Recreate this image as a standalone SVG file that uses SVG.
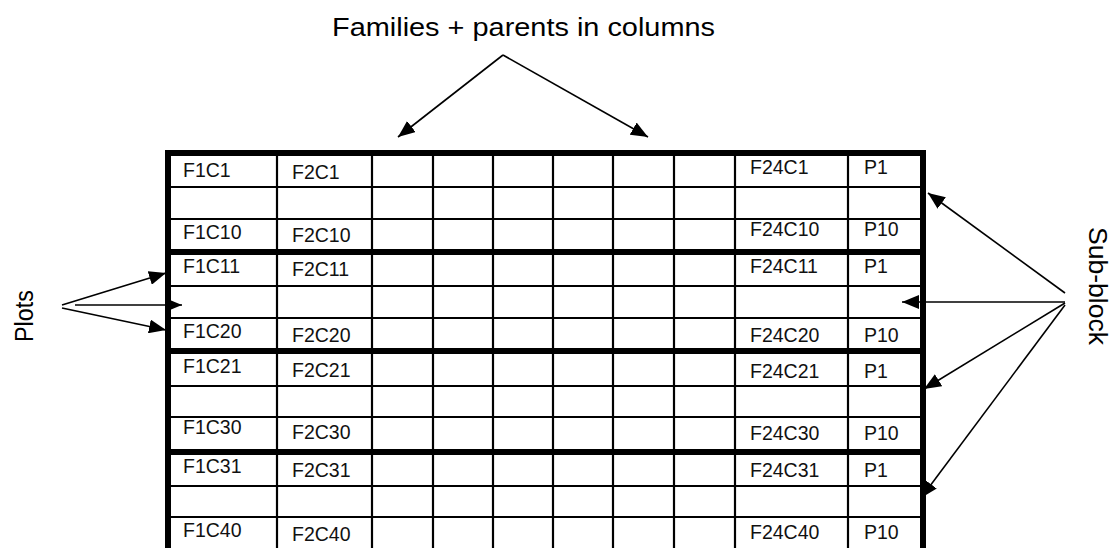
<svg xmlns="http://www.w3.org/2000/svg" width="1111" height="548" viewBox="0 0 1111 548">
<style>
.thin{stroke:#000;stroke-width:2.2;fill:none}
.thick{stroke:#000;stroke-width:6;fill:none}
.cell{font-family:"Liberation Sans",Arial,sans-serif;font-size:19.5px;fill:#111}
.lbl{font-family:"Liberation Sans",Arial,sans-serif;font-size:26px;fill:#000}
.conn{stroke:#000;stroke-width:1.6;fill:none;marker-end:url(#ah)}
</style>
<defs>
<marker id="ah" markerUnits="userSpaceOnUse" markerWidth="18" markerHeight="14" refX="17" refY="7" orient="auto">
<path d="M0,0 L17,7 L0,14 z" fill="#000"/>
</marker>
</defs>
<rect width="1111" height="548" fill="#fff"/>
<g id="grid">
<g class="thin">
<line x1="277" y1="153" x2="277" y2="560"/>
<line x1="372" y1="153" x2="372" y2="560"/>
<line x1="433" y1="153" x2="433" y2="560"/>
<line x1="493" y1="153" x2="493" y2="560"/>
<line x1="553" y1="153" x2="553" y2="560"/>
<line x1="613" y1="153" x2="613" y2="560"/>
<line x1="674" y1="153" x2="674" y2="560"/>
<line x1="735" y1="153" x2="735" y2="560"/>
<line x1="848" y1="153" x2="848" y2="560"/>
<line x1="168" y1="187" x2="923" y2="187"/>
<line x1="168" y1="219" x2="923" y2="219"/>
<line x1="168" y1="286" x2="923" y2="286"/>
<line x1="168" y1="318" x2="923" y2="318"/>
<line x1="168" y1="386" x2="923" y2="386"/>
<line x1="168" y1="417" x2="923" y2="417"/>
<line x1="168" y1="486" x2="923" y2="486"/>
<line x1="168" y1="517" x2="923" y2="517"/>
</g>
<g class="thick">
<line x1="168" y1="252" x2="923" y2="252"/>
<line x1="168" y1="351" x2="923" y2="351"/>
<line x1="168" y1="452" x2="923" y2="452"/>
<rect x="168" y="153" width="755" height="410"/>
</g>
</g>
<g id="cells" class="cell">
<text x="183" y="177">F1C1</text><text x="292" y="179">F2C1</text><text x="750" y="174">F24C1</text><text x="864" y="174">P1</text>
<text x="183" y="239">F1C10</text><text x="292" y="242">F2C10</text><text x="750" y="236">F24C10</text><text x="864" y="236">P10</text>
<text x="183" y="273">F1C11</text><text x="292" y="276">F2C11</text><text x="750" y="273">F24C11</text><text x="864" y="273">P1</text>
<text x="183" y="338">F1C20</text><text x="292" y="342">F2C20</text><text x="750" y="342">F24C20</text><text x="864" y="342">P10</text>
<text x="183" y="373">F1C21</text><text x="292" y="377">F2C21</text><text x="750" y="378">F24C21</text><text x="864" y="378">P1</text>
<text x="183" y="434">F1C30</text><text x="292" y="439">F2C30</text><text x="750" y="440">F24C30</text><text x="864" y="440">P10</text>
<text x="183" y="473">F1C31</text><text x="292" y="477">F2C31</text><text x="750" y="477">F24C31</text><text x="864" y="477">P1</text>
<text x="183" y="537">F1C40</text><text x="292" y="541">F2C40</text><text x="750" y="539">F24C40</text><text x="864" y="539">P10</text>
</g>
<g id="title"><text class="lbl" x="332" y="36" textLength="383" lengthAdjust="spacingAndGlyphs">Families + parents in columns</text></g>
<g id="plots"><text class="lbl" transform="translate(33,342) rotate(-90)" textLength="52" lengthAdjust="spacingAndGlyphs">Plots</text></g>
<g id="subblock"><text class="lbl" transform="translate(1089,227) rotate(90)" textLength="118" lengthAdjust="spacingAndGlyphs">Sub-block</text></g>
<g id="connectors">
<line class="conn" x1="503" y1="55" x2="398" y2="137"/>
<line class="conn" x1="503" y1="55" x2="648" y2="137"/>
<line class="conn" x1="62" y1="305" x2="166" y2="273"/>
<line class="conn" x1="75" y1="305" x2="182" y2="305"/>
<line class="conn" x1="62" y1="308" x2="166" y2="330"/>
<line class="conn" x1="1065" y1="293" x2="928" y2="193"/>
<line class="conn" x1="1065" y1="302" x2="902" y2="302"/>
<line class="conn" x1="1065" y1="303" x2="924" y2="389"/>
<line class="conn" x1="1065" y1="305" x2="921" y2="498"/>
</g>
</svg>
